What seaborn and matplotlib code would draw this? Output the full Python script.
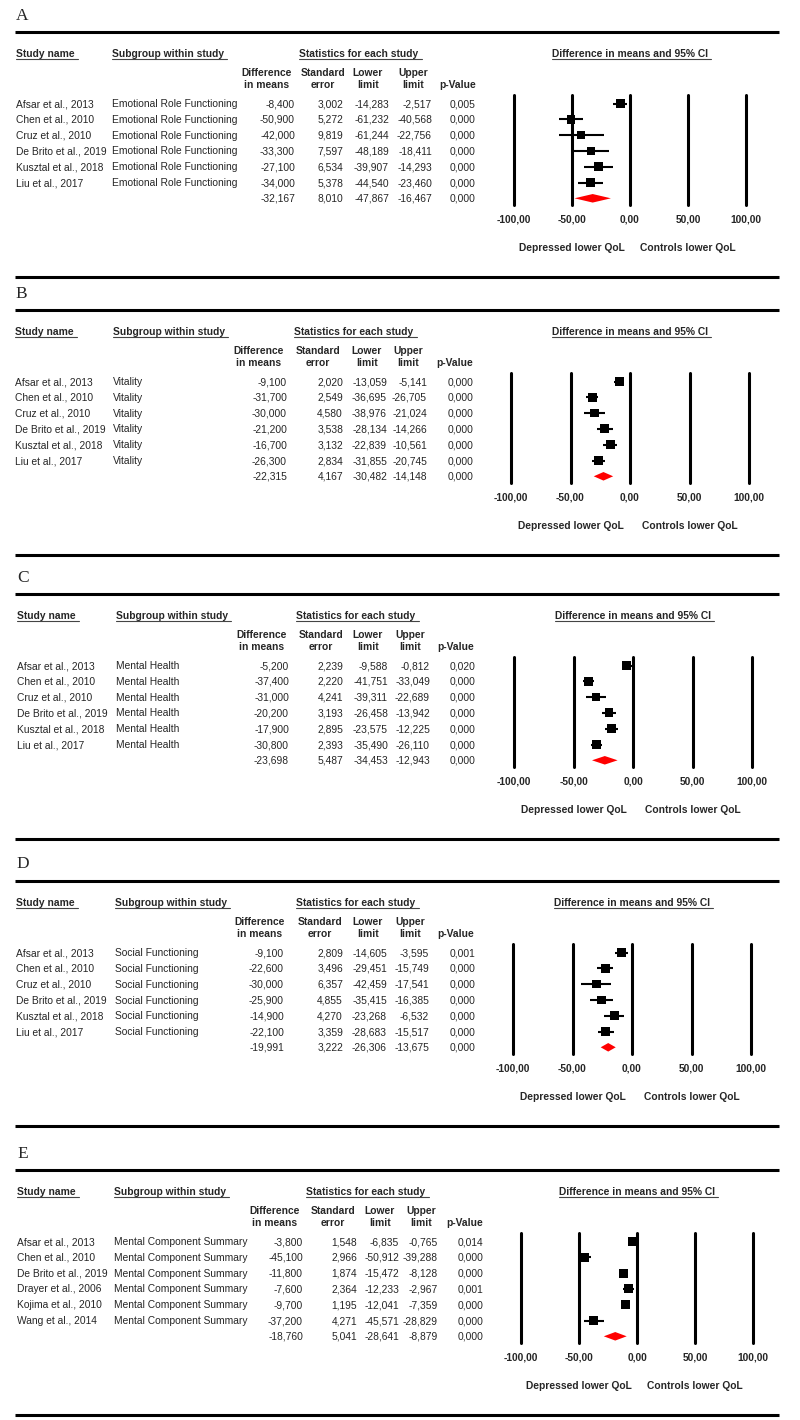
import numpy as np
import pandas as pd
import matplotlib
matplotlib.use("Agg")
import matplotlib.pyplot as plt
import matplotlib.transforms as mtransforms
from matplotlib.lines import Line2D
import seaborn as sns

sns.set_style("white")
plt.rcParams["font.family"] = ["Liberation Sans", "DejaVu Sans"]

# ---------------- data ----------------
panel_labels = ["A", "B", "C", "D", "E"]

studies_A = ["Afsar et al., 2013", "Chen et al., 2010", "Cruz et al., 2010",
             "De Brito et al., 2019", "Kusztal et al., 2018", "Liu et al., 2017"]
studies_E = ["Afsar et al., 2013", "Chen et al., 2010", "De Brito et al., 2019",
             "Drayer et al., 2006", "Kojima et al., 2010", "Wang et al., 2014"]
subgroups = ["Emotional Role Functioning", "Vitality", "Mental Health",
             "Social Functioning", "Mental Component Summary"]

diff_A = [-8.400, -50.900, -42.000, -33.300, -27.100, -34.000]
se_A = [3.002, 5.272, 9.819, 7.597, 6.534, 5.378]
lower_A = [-14.283, -61.232, -61.244, -48.189, -39.907, -44.540]
upper_A = [-2.517, -40.568, -22.756, -18.411, -14.293, -23.460]
p_A = [0.005, 0.000, 0.000, 0.000, 0.000, 0.000]

diff_B = [-9.100, -31.700, -30.000, -21.200, -16.700, -26.300]
se_B = [2.020, 2.549, 4.580, 3.538, 3.132, 2.834]
lower_B = [-13.059, -36.695, -38.976, -28.134, -22.839, -31.855]
upper_B = [-5.141, -26.705, -21.024, -14.266, -10.561, -20.745]
p_B = [0.000, 0.000, 0.000, 0.000, 0.000, 0.000]

diff_C = [-5.200, -37.400, -31.000, -20.200, -17.900, -30.800]
se_C = [2.239, 2.220, 4.241, 3.193, 2.895, 2.393]
lower_C = [-9.588, -41.751, -39.311, -26.458, -23.575, -35.490]
upper_C = [-0.812, -33.049, -22.689, -13.942, -12.225, -26.110]
p_C = [0.020, 0.000, 0.000, 0.000, 0.000, 0.000]

diff_D = [-9.100, -22.600, -30.000, -25.900, -14.900, -22.100]
se_D = [2.809, 3.496, 6.357, 4.855, 4.270, 3.359]
lower_D = [-14.605, -29.451, -42.459, -35.415, -23.268, -28.683]
upper_D = [-3.595, -15.749, -17.541, -16.385, -6.532, -15.517]
p_D = [0.001, 0.000, 0.000, 0.000, 0.000, 0.000]

diff_E = [-3.800, -45.100, -11.800, -7.600, -9.700, -37.200]
se_E = [1.548, 2.966, 1.874, 2.364, 1.195, 4.271]
lower_E = [-6.835, -50.912, -15.472, -12.233, -12.041, -45.571]
upper_E = [-0.765, -39.288, -8.128, -2.967, -7.359, -28.829]
p_E = [0.014, 0.000, 0.000, 0.001, 0.000, 0.000]

pooled_diff = [-32.167, -22.315, -23.698, -19.991, -18.760]
pooled_se = [8.010, 4.167, 5.487, 3.222, 5.041]
pooled_lower = [-47.867, -30.482, -34.453, -26.306, -28.641]
pooled_upper = [-16.467, -14.148, -12.943, -13.675, -8.879]
pooled_p = [0.000, 0.000, 0.000, 0.000, 0.000]

x_ticks = [-100, -50, 0, 50, 100]
left_label = "Depressed lower QoL"
right_label = "Controls lower QoL"

panels = [
    (studies_A, diff_A, se_A, lower_A, upper_A, p_A),
    (studies_A, diff_B, se_B, lower_B, upper_B, p_B),
    (studies_A, diff_C, se_C, lower_C, upper_C, p_C),
    (studies_A, diff_D, se_D, lower_D, upper_D, p_D),
    (studies_E, diff_E, se_E, lower_E, upper_E, p_E),
]

# ---------------- layout (pixels) ----------------
W, H = 800, 1420
offsets = [0, 278, 562, 849, 1138]
layout = [
    dict(study=16, sub=112, diff_r=295, diff_c=267, se_r=343, se_c=323, lo_r=389, lo_c=368,
         hi_r=432, hi_c=413, p_r=476, p_c=458, stats_c=359, ax=(514, 746)),
    dict(study=15, sub=113, diff_r=287, diff_c=259, se_r=343, se_c=318, lo_r=387, lo_c=367,
         hi_r=427, hi_c=408, p_r=473, p_c=455, stats_c=354, ax=(511, 749)),
    dict(study=17, sub=116, diff_r=289, diff_c=262, se_r=343, se_c=321, lo_r=388, lo_c=368,
         hi_r=430, hi_c=410, p_r=476, p_c=456, stats_c=356, ax=(514, 752)),
    dict(study=16, sub=115, diff_r=284, diff_c=260, se_r=343, se_c=320, lo_r=387, lo_c=368,
         hi_r=429, hi_c=410, p_r=475, p_c=456, stats_c=356, ax=(513, 751)),
    dict(study=17, sub=114, diff_r=303, diff_c=275, se_r=357, se_c=333, lo_r=399, lo_c=380,
         hi_r=438, hi_c=421, p_r=483, p_c=465, stats_c=366, ax=(521, 753)),
]
FS = 7.35
ROW0, ROWH = 103.5, 15.8
AX_TOP, AX_BOT = 94.5, 204.5
BL = 3.6  # pixels from visual text centre down to baseline

fig = plt.figure(figsize=(W / 100, H / 100), dpi=100)
fig.patch.set_facecolor("white")
px = mtransforms.Affine2D().scale(1 / W, -1 / H).translate(0, 1) + fig.transFigure
down = mtransforms.ScaledTranslation(0, -BL / 100, fig.dpi_scale_trans)


def fmt(v, d=3):
    return f"{v:.{d}f}".replace(".", ",")


underlined = []
VA = "baseline"

for i, lab in enumerate(panel_labels):
    off = offsets[i]
    L = layout[i]
    studies, diff, se, lo, hi, pv = panels[i]
    n = len(diff)

    # panel letter and rules
    fig.text(L["study"], off + 14 + 5.5, lab, transform=px,
             family=["Liberation Serif", "DejaVu Serif"], fontsize=12.5, va=VA, ha="left")
    for yy in (off + 32, off + 277):
        fig.add_artist(Line2D([15, 779], [yy, yy], transform=px, color="black", lw=2.2,
                              solid_capstyle="butt"))

    # headers
    hdr = dict(transform=px, fontsize=FS, fontweight="bold", va=VA)
    t1 = fig.text(L["study"], off + 53 + BL, "Study name", ha="left", **hdr)
    t2 = fig.text(L["sub"], off + 53 + BL, "Subgroup within study", ha="left", **hdr)
    t3 = fig.text(L["stats_c"], off + 53 + BL, "Statistics for each study", ha="center", **hdr)
    cx = (L["ax"][0] + L["ax"][1]) / 2
    t4 = fig.text(cx, off + 53 + BL, "Difference in means and 95% CI", ha="center", **hdr)
    underlined += [t1, t2, t3, t4]
    for c, a, b in [("diff_c", "Difference", "in means"), ("se_c", "Standard", "error"),
                    ("lo_c", "Lower", "limit"), ("hi_c", "Upper", "limit")]:
        fig.text(L[c], off + 72 + BL, a, ha="center", **hdr)
        fig.text(L[c], off + 84 + BL, b, ha="center", **hdr)
    fig.text(L["p_c"], off + 84 + BL, "p-Value", ha="center", **hdr)

    # forest axes
    x0, x1 = L["ax"]
    ax = fig.add_axes([x0 / W, 1 - (off + AX_BOT) / H, (x1 - x0) / W, (AX_BOT - AX_TOP) / H])
    ax.patch.set_alpha(0)
    rows = np.arange(n)
    df = pd.DataFrame({"diff": diff, "se": se, "lower": lo, "upper": hi, "row": rows})
    for t in x_ticks:
        ax.axvline(t, color="black", lw=2.2, zorder=1, clip_on=False)
    ax.hlines(df["row"], df["lower"], df["upper"], color="black", lw=1.5, zorder=2)
    sns.scatterplot(data=df, x="diff", y="row", size="se", sizes=(44, 32), size_norm=(1, 10),
                    marker="s", color="black", linewidth=0, legend=False, ax=ax, zorder=3)
    r = n
    hh = 0.27
    ax.fill([pooled_lower[i], pooled_diff[i], pooled_upper[i], pooled_diff[i]],
            [r, r - hh, r, r + hh], color="#ff0000", lw=0, zorder=3)
    ax.set_xlim(-100, 100)
    ax.set_ylim((AX_BOT - ROW0) / ROWH, (AX_TOP - ROW0) / ROWH)
    for s in ax.spines.values():
        s.set_visible(False)
    ax.set_yticks([])
    ax.set_xticks(x_ticks)
    ax.set_xticklabels([fmt(t, 2) for t in x_ticks], fontweight="bold", fontsize=FS)
    ax.tick_params(axis="x", length=0, pad=7)
    ax.set_xlabel("")
    ax.set_ylabel("")
    ax.grid(False)

    tq = mtransforms.blended_transform_factory(ax.transData, px)
    ax.text(-50, off + 247 + BL, left_label, transform=tq, ha="center", va=VA,
            fontsize=FS, fontweight="bold")
    ax.text(50, off + 247 + BL, right_label, transform=tq, ha="center", va=VA,
            fontsize=FS, fontweight="bold")

    # table rows
    tr = mtransforms.blended_transform_factory(px, ax.transData) + down
    rowkw = dict(transform=tr, fontsize=FS, va=VA, clip_on=False)
    all_diff = list(diff) + [pooled_diff[i]]
    all_se = list(se) + [pooled_se[i]]
    all_lo = list(lo) + [pooled_lower[i]]
    all_hi = list(hi) + [pooled_upper[i]]
    all_p = list(pv) + [pooled_p[i]]
    for k in range(n + 1):
        if k < n:
            ax.text(L["study"], k, studies[k], ha="left", **rowkw)
            ax.text(L["sub"], k, subgroups[i], ha="left", **rowkw)
        ax.text(L["diff_r"], k, fmt(all_diff[k]), ha="right", **rowkw)
        ax.text(L["se_r"], k, fmt(all_se[k]), ha="right", **rowkw)
        ax.text(L["lo_r"], k, fmt(all_lo[k]), ha="right", **rowkw)
        ax.text(L["hi_r"], k, fmt(all_hi[k]), ha="right", **rowkw)
        ax.text(L["p_r"], k, fmt(all_p[k]), ha="right", **rowkw)

# underlines beneath header titles
fig.canvas.draw()
renderer = fig.canvas.get_renderer()
for t in underlined:
    bb = t.get_window_extent(renderer)
    xd, yd = t.get_transform().transform(t.get_position())
    y_ul = yd - 2.2
    fig.add_artist(Line2D([bb.x0, bb.x1 + 3], [y_ul, y_ul], transform=mtransforms.IdentityTransform(),
                          color="#444444", lw=0.8))

fig.savefig("out.png", dpi=100)
